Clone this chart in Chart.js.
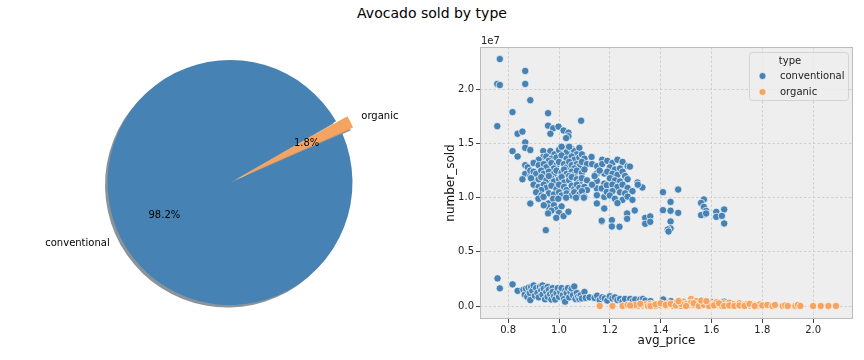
<!DOCTYPE html>
<html><head><meta charset="utf-8">
<script src="https://cdn.jsdelivr.net/npm/chart.js@4"></script>
<style>
html,body{margin:0;padding:0;background:#fff;overflow:hidden;}
#wrap{position:relative;width:864px;height:360px;}
#title{position:absolute;left:0;top:5px;width:864px;text-align:center;font:14px "DejaVu Sans";color:#000;}
#pie{position:absolute;left:0;top:0;}
#sc{position:absolute;left:430px;top:0;}
</style></head><body>
<div id="wrap">
<div id="title">Avocado sold by type</div>
<canvas id="pie" width="460" height="360"></canvas>
<canvas id="sc" width="434" height="360"></canvas>
</div>
<script>
// ---------- data ----------
const pieLabels = ['conventional', 'organic'];
const pieValues = [98.2, 1.8];

const xTicks = [0.8, 1.0, 1.2, 1.4, 1.6, 1.8, 2.0];
const yTicks = [0.0, 0.5, 1.0, 1.5, 2.0];   // number_sold, units of 1e7
const legendTitle = 'type';

// conventional: [avg_price, number_sold (1e7)]
const conventionalPoints = [
[0.767,2.28],[0.757,2.05],[0.767,2.04],[0.867,2.17],[0.867,2.05],[0.887,1.90],[0.817,1.79],[0.757,1.66],
[0.837,1.59],[0.856,1.61],[0.867,1.51],[0.817,1.43],[0.837,1.38],[0.867,1.46],[0.887,1.44],[0.867,1.30],[0.877,1.28],[0.867,1.22],[0.887,1.20],[0.887,1.25],[0.856,1.17],[0.913,1.16],[0.887,0.946],
[0.957,1.78],[0.957,1.665],[0.977,1.64],[0.998,1.656],[0.966,1.59],[1.018,1.62],[1.037,1.60],[1.037,1.567],[1.028,1.55],[1.087,1.71],[1.128,1.376],[1.17,1.35],
[0.938,1.43],[0.966,1.43],[0.982,1.40],[1.00,1.44],[1.02,1.46],[1.03,1.42],[1.05,1.45],[1.06,1.43],[1.08,1.46],[1.07,1.40],[1.04,1.47],[1.01,1.47],
[0.938,1.376],[0.92,1.35],[0.95,1.38],[0.97,1.36],[0.99,1.37],[1.01,1.39],[1.03,1.36],[1.05,1.38],[1.06,1.35],[1.08,1.37],[1.09,1.40],[1.10,1.36],[0.96,1.34],
[0.90,1.32],[0.92,1.30],[0.94,1.31],[0.95,1.28],[0.97,1.32],[0.99,1.30],[1.00,1.33],[1.02,1.31],[1.03,1.28],[1.04,1.33],[1.05,1.30],[1.07,1.31],[1.08,1.29],[1.09,1.33],[1.11,1.31],[0.98,1.27],[1.06,1.27],
[0.90,1.24],[0.91,1.22],[0.93,1.25],[0.94,1.22],[0.96,1.24],[0.98,1.22],[0.99,1.25],[1.01,1.23],[1.02,1.26],[1.03,1.22],[1.05,1.24],[1.06,1.21],[1.07,1.25],[1.09,1.23],[1.10,1.26],[1.04,1.20],
[0.89,1.18],[0.92,1.17],[0.93,1.19],[0.95,1.16],[0.97,1.18],[0.98,1.15],[1.00,1.17],[1.01,1.19],[1.02,1.14],[1.04,1.16],[1.05,1.19],[1.07,1.17],[1.08,1.14],[1.09,1.18],[1.11,1.16],[0.96,1.20],
[0.90,1.12],[0.92,1.10],[0.94,1.12],[0.95,1.09],[0.97,1.11],[0.99,1.08],[1.00,1.12],[1.02,1.10],[1.03,1.07],[1.05,1.11],[1.06,1.08],[1.07,1.12],[1.08,1.09],[1.10,1.10],[1.11,1.07],[0.93,1.07],
[0.91,1.05],[0.93,1.02],[0.96,1.04],[0.98,1.03],[1.00,1.05],[1.01,1.02],[1.03,1.04],[1.05,1.02],[1.06,1.05],[1.08,1.03],[1.09,1.06],[1.10,1.01],
[0.919,0.99],[0.939,1.007],[0.959,0.947],[0.977,0.99],[0.997,0.99],[1.028,1.00],[1.067,1.00],[1.098,1.00],[0.96,0.91],[0.98,0.93],[0.99,0.89],[1.01,0.92],[0.97,0.88],[1.00,0.86],[0.957,0.855],[0.989,0.814],[1.018,0.83],[1.037,0.87],[0.948,0.70],[0.94,0.93],
[1.149,1.223],[1.178,1.223],[1.149,1.155],[1.178,1.13],[1.149,1.085],[1.168,1.085],[1.188,1.115],[1.149,1.023],[1.178,1.007],[1.188,1.053],[1.149,0.947],[1.178,0.90],[1.168,0.78],
[1.13,1.31],[1.15,1.29],[1.17,1.31],[1.19,1.34],[1.21,1.32],[1.23,1.35],[1.25,1.33],[1.27,1.29],[1.279,1.287],[1.20,1.28],[1.22,1.26],[1.24,1.27],[1.19,1.24],[1.21,1.22],[1.23,1.21],[1.25,1.24],[1.26,1.20],[1.20,1.18],[1.22,1.16],[1.24,1.15],[1.27,1.17],[1.21,1.12],[1.23,1.10],[1.25,1.12],[1.27,1.09],[1.21,1.06],[1.24,1.05],[1.26,1.04],[1.289,1.06],[1.309,1.14],[1.328,1.094],[1.31,1.12],[1.20,1.02],[1.22,0.99],[1.25,0.98],[1.27,1.01],[1.289,0.98],[1.23,0.95],[1.298,0.882],[1.268,0.854],[1.268,0.805],[1.168,0.787],[1.208,0.793],[1.208,0.734],[1.238,0.731],[1.339,0.814],[1.359,0.827],[1.339,0.759],[1.359,0.777],[1.14,1.20],[1.16,1.25],[1.13,1.12],
[1.409,1.051],[1.469,1.075],[1.439,0.961],[1.409,0.885],[1.439,0.879],[1.469,0.86],[1.439,0.78],[1.439,0.716],[1.428,0.707],[1.431,0.688],[1.57,0.983],[1.559,0.952],[1.57,0.915],[1.579,0.878],[1.57,0.845],[1.559,0.839],[1.579,0.854],[1.619,0.869],[1.65,0.891],[1.619,0.823],[1.641,0.832],[1.65,0.762],
[0.758,0.255],[0.767,0.163],[0.817,0.20],[0.837,0.14],
[0.86,0.15],[0.865,0.105],[0.87,0.16],[0.875,0.085],[0.88,0.17],[0.885,0.12],[0.887,0.055],[0.89,0.175],[0.895,0.14],[0.90,0.19],[0.905,0.095],[0.91,0.165],[0.915,0.12],[0.92,0.08],[0.925,0.175],[0.93,0.145],[0.935,0.19],[0.935,0.105],[0.94,0.16],[0.945,0.062],[0.95,0.13],[0.955,0.175],[0.955,0.085],[0.96,0.15],[0.965,0.11],[0.97,0.06],[0.975,0.165],[0.975,0.13],[0.98,0.09],[0.985,0.06],[0.99,0.12],[0.995,0.165],[1.00,0.085],[1.005,0.13],[1.01,0.165],[1.015,0.10],[1.02,0.065],[1.024,0.04],[1.025,0.145],[1.03,0.12],[1.035,0.165],[1.04,0.08],[1.045,0.13],[1.05,0.16],[1.055,0.10],[1.06,0.18],[1.065,0.065],[1.07,0.12],[1.075,0.085],[1.08,0.065],[1.085,0.10],[1.09,0.07],[1.10,0.13],[1.105,0.075],[1.12,0.08],[1.14,0.075],[1.15,0.095],[1.16,0.055],[1.17,0.08],[1.18,0.07],[1.19,0.05],[1.20,0.09],[1.21,0.07],[1.22,0.08],[1.23,0.055],[1.24,0.065],[1.25,0.04],[1.26,0.065],[1.28,0.065],[1.29,0.045],[1.30,0.06],[1.32,0.06],[1.33,0.065],[1.34,0.05],[1.36,0.045],[1.41,0.06],[1.44,0.045],[1.47,0.05],[1.52,0.04],[1.57,0.045],[1.60,0.035],[1.65,0.04],[1.62,0.03],[1.55,0.03]
];

// organic: [avg_price, number_sold (1e7)]
const organicPoints = [
[1.16,0.0],[1.21,0.0],[1.25,0.0],[1.27,0.01],[1.29,0.0],[1.31,0.0],[1.33,0.005],[1.34,0.015],[1.35,0.0],[1.36,0.02],[1.37,0.01],[1.38,0.0],[1.39,0.02],[1.40,0.005],[1.41,0.015],[1.42,0.0],[1.43,0.025],[1.44,0.01],[1.45,0.0],[1.46,0.03],[1.47,0.015],[1.48,0.0],[1.49,0.04],[1.50,0.02],[1.51,0.005],[1.52,0.065],[1.52,0.03],[1.53,0.01],[1.54,0.045],[1.55,0.02],[1.56,0.0],[1.57,0.035],[1.58,0.015],[1.59,0.03],[1.60,0.005],[1.61,0.02],[1.62,0.035],[1.63,0.01],[1.64,0.0],[1.65,0.025],[1.66,0.01],[1.67,0.03],[1.68,0.0],[1.69,0.02],[1.70,0.01],[1.71,0.025],[1.72,0.0],[1.73,0.015],[1.74,0.02],[1.75,0.005],[1.76,0.02],[1.77,0.01],[1.78,0.0],[1.79,0.015],[1.80,0.005],[1.82,0.01],[1.84,0.0],[1.85,0.01],[1.88,0.0],[1.89,0.005],[1.90,0.0],[1.93,0.0],[1.94,0.01],[1.95,0.0],[2.00,0.0],[2.03,0.0],[2.06,0.0],[2.09,0.0],
[1.36,0.0],[1.38,0.015],[1.40,0.025],[1.42,0.01],[1.44,0.02],[1.46,0.005],[1.48,0.02],[1.50,0.0],[1.53,0.025],[1.55,0.0],[1.57,0.01],[1.59,0.0],[1.61,0.005],[1.63,0.025],[1.65,0.0],[1.67,0.005],[1.69,0.0],[1.71,0.005],[1.73,0.0],[1.75,0.02],[1.77,0.0],[1.30,0.01],[1.32,0.02],[1.28,0.005],[1.47,0.045],[1.56,0.05],[1.58,0.045]
];

// ---------- style ----------
const FONT = '"DejaVu Sans", "Liberation Sans", sans-serif';
const COLORS = ['#4682b4', '#f4a460'];
const SHADOWS = ['rgba(21,39,54,0.5)', 'rgba(73,49,29,0.5)'];

function explodeShift(arc) {
  const o = (arc.options.offset || 0) / 4;
  const circ = arc.endAngle - arc.startAngle;
  const fix = 1 - Math.sin(Math.min(Math.PI, circ));
  return o + o * fix;
}

const pieDecor = {
  id: 'pieDecor',
  beforeDatasetsDraw(chart) {
    const ctx = chart.ctx;
    chart.getDatasetMeta(0).data.forEach((arc, i) => {
      const sh = explodeShift(arc);
      const mid = (arc.startAngle + arc.endAngle) / 2;
      const cx = arc.x + Math.cos(mid) * sh - 2.5;
      const cy = arc.y + Math.sin(mid) * sh + 2.5;
      ctx.save();
      ctx.beginPath();
      ctx.moveTo(cx, cy);
      ctx.arc(cx, cy, arc.outerRadius, arc.startAngle, arc.endAngle);
      ctx.closePath();
      ctx.fillStyle = SHADOWS[i];
      ctx.fill();
      ctx.restore();
    });
  },
  afterDatasetsDraw(chart) {
    const ctx = chart.ctx;
    const vals = chart.data.datasets[0].data;
    const total = vals.reduce((a, b) => a + b, 0);
    ctx.save();
    ctx.font = '10px ' + FONT;
    ctx.fillStyle = '#000';
    ctx.textBaseline = 'middle';
    chart.getDatasetMeta(0).data.forEach((arc, i) => {
      const sh = explodeShift(arc);
      const r = arc.outerRadius;
      const mid = (arc.startAngle + arc.endAngle) / 2;
      const c = Math.cos(mid), s = Math.sin(mid);
      ctx.textAlign = c < 0 ? 'right' : 'left';
      ctx.fillText(chart.data.labels[i], arc.x + c * (sh + 1.1 * r), arc.y + s * (sh + 1.1 * r));
      ctx.textAlign = 'center';
      ctx.fillText((vals[i] / total * 100).toFixed(1) + '%', arc.x + c * (sh + 0.6 * r), arc.y + s * (sh + 0.6 * r));
    });
    ctx.restore();
  }
};

const pieTotal = pieValues.reduce((a, b) => a + b, 0);
const startAngle = 30;
new Chart(document.getElementById('pie'), {
  type: 'pie',
  data: {
    labels: pieLabels,
    datasets: [{ data: pieValues, backgroundColor: COLORS, borderWidth: 0, offset: [0, 26], hoverOffset: 0 }]
  },
  options: {
    responsive: false, animation: false, devicePixelRatio: 1,
    rotation: 90 - startAngle + 360 * pieValues[1] / pieTotal,
    radius: 122.5,
    layout: { padding: { top: 5 } },
    plugins: { legend: { display: false }, tooltip: { enabled: false } }
  },
  plugins: [pieDecor]
});

// ---------- scatter ----------
const scatterDecor = {
  id: 'scatterDecor',
  beforeDraw(chart) {
    const { ctx, chartArea: a } = chart;
    ctx.save();
    ctx.fillStyle = '#eeeeee';
    ctx.fillRect(a.left, a.top, a.right - a.left, a.bottom - a.top);
    ctx.restore();
  },
  afterDraw(chart) {
    const { ctx, chartArea: a } = chart;
    ctx.save();
    ctx.strokeStyle = '#bcbcbc';
    ctx.lineWidth = 1;
    ctx.strokeRect(a.left + 0.5, a.top + 0.5, a.right - a.left - 1, a.bottom - a.top - 1);
    // offset text
    ctx.font = '10px ' + FONT;
    ctx.fillStyle = '#222';
    ctx.textAlign = 'left';
    ctx.textBaseline = 'alphabetic';
    ctx.fillText('1e7', a.left + 1, a.top - 3);
    // legend
    const bx = a.right - 104, by = a.top + 5, bw = 99, bh = 48;
    ctx.beginPath();
    if (ctx.roundRect) ctx.roundRect(bx + 0.5, by + 0.5, bw, bh, 3); else ctx.rect(bx + 0.5, by + 0.5, bw, bh);
    ctx.fillStyle = 'rgba(238,238,238,0.8)';
    ctx.fill();
    ctx.strokeStyle = '#d3d3d3';
    ctx.lineWidth = 1;
    ctx.stroke();
    ctx.fillStyle = '#222';
    ctx.textBaseline = 'middle';
    ctx.textAlign = 'center';
    ctx.fillText(legendTitle, bx + 41, by + 9.5);
    const names = chart.data.datasets.map(d => d.label);
    const cols = chart.data.datasets.map(d => d.backgroundColor);
    names.forEach((n, i) => {
      const y = by + 24 + i * 16;
      ctx.beginPath();
      ctx.arc(bx + 13.5, y, 3.5, 0, Math.PI * 2);
      ctx.fillStyle = cols[i];
      ctx.fill();
      ctx.strokeStyle = '#fff';
      ctx.lineWidth = 0.6;
      ctx.stroke();
      ctx.fillStyle = '#222';
      ctx.textAlign = 'left';
      ctx.fillText(n, bx + 31, y);
    });
    ctx.restore();
  }
};

const tickFont = { family: FONT, size: 10 };
const gridCfg = { color: '#c8c8c8', lineWidth: 0.8, borderDash: [2.5, 2], tickColor: '#444', tickLength: 4, tickWidth: 1, tickBorderDash: [] };
const borderCfg = { display: false, dash: [2.5, 2] };

new Chart(document.getElementById('sc'), {
  type: 'scatter',
  data: {
    datasets: [
      { label: 'conventional', data: conventionalPoints.map(([x, y]) => ({ x, y })), backgroundColor: COLORS[0], borderColor: '#ffffff', borderWidth: 0.7, pointRadius: 3.7, pointHoverRadius: 3.7, order: 1 },
      { label: 'organic', data: organicPoints.map(([x, y]) => ({ x, y })), backgroundColor: COLORS[1], borderColor: '#ffffff', borderWidth: 0.7, pointRadius: 3.7, pointHoverRadius: 3.7, order: 0 }
    ]
  },
  options: {
    responsive: false, animation: false, devicePixelRatio: 1,
    layout: { padding: { left: 0, right: 11, top: 47, bottom: 0 } },
    plugins: { legend: { display: false }, tooltip: { enabled: false } },
    scales: {
      x: {
        type: 'linear', min: 0.689, max: 2.157,
        afterBuildTicks: s => { s.ticks = xTicks.map(v => ({ value: v })); },
        afterFit: s => { s.height = 41; },
        ticks: { callback: v => Number(v).toFixed(1), font: tickFont, color: '#222', padding: 1, maxRotation: 0, autoSkip: false },
        grid: gridCfg, border: borderCfg,
        title: { display: true, text: 'avg_price', font: { family: FONT, size: 12 }, color: '#111', padding: { top: 0, bottom: 12 } }
      },
      y: {
        type: 'linear', min: -0.12, max: 2.391,
        afterBuildTicks: s => { s.ticks = yTicks.map(v => ({ value: v })); },
        afterFit: s => { s.width = 50; },
        ticks: { callback: v => Number(v).toFixed(1), font: tickFont, color: '#222', padding: 2, autoSkip: false },
        grid: gridCfg, border: borderCfg,
        title: { display: true, text: 'number_sold', font: { family: FONT, size: 12 }, color: '#111', padding: { top: 14, bottom: 0 } }
      }
    }
  },
  plugins: [scatterDecor]
});
</script>
</body></html>
